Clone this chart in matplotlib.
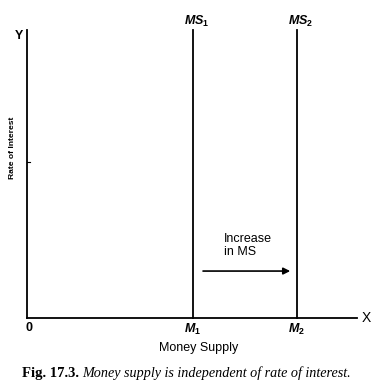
import matplotlib
matplotlib.use("Agg")
import matplotlib.pyplot as plt

# data
x_max = 10.0
y_max = 10.0
ms_positions = [5.03, 8.18]
ms_labels = ["$MS_1$", "$MS_2$"]
m_labels = ["$M_1$", "$M_2$"]
x_label = "Money Supply"
y_label = "Rate of Interest"
arrow_text = "Increase\nin MS"
caption_bold = "Fig. 17.3."
caption_italic = "Money supply is independent of rate of interest."

plt.rcParams['mathtext.fontset'] = 'custom'
plt.rcParams['mathtext.it'] = 'Liberation Sans:bold:italic'
plt.rcParams['mathtext.rm'] = 'Liberation Sans:bold'
plt.rcParams['font.family'] = ['Liberation Sans', 'DejaVu Sans']

fig = plt.figure(figsize=(3.84, 3.87), dpi=100)
ax = fig.add_axes([27/384, (387-318)/387, 330/384, 288/387])
ax.set_xlim(0, x_max)
ax.set_ylim(0, y_max)
ax.axis('off')

lw = 1.3
# axes lines
ax.plot([0, 0], [0, y_max], color='black', lw=lw, clip_on=False)
ax.plot([0, x_max], [0, 0], color='black', lw=lw, clip_on=False)
ax.plot([0, 0.08], [5.4, 5.4], color='black', lw=0.8, clip_on=False)

for xp, lab, mlab in zip(ms_positions, ms_labels, m_labels):
    ax.plot([xp, xp], [0, y_max], color='black', lw=lw, clip_on=False)
    ax.text(xp + 0.1, y_max + 0.02, lab, ha='center', va='bottom', fontsize=9)
    ax.text(xp, -0.12, mlab, ha='center', va='top', fontsize=9)

ax.text(-0.12, y_max - 0.2, "Y", ha='right', va='center', fontsize=9, fontweight='bold')
ax.text(x_max + 0.15, 0, "X", ha='left', va='center', fontsize=10)
ax.text(0.05, -0.15, "0", ha='center', va='top', fontsize=9, fontweight='bold')
ax.text(5.2, -0.85, x_label, ha='center', va='top', fontsize=9)
ax.text(-0.45, 5.92, y_label, ha='center', va='center', rotation=90, fontsize=6.1,
        fontweight='bold')

ax.annotate("", xy=(ms_positions[1] - 0.12, 1.63), xytext=(ms_positions[0] + 0.22, 1.63),
            arrowprops=dict(arrowstyle='-|>', color='black', lw=1.2, mutation_scale=10))
ax.text(5.98, 2.1, arrow_text, ha='left', va='bottom', fontsize=9, linespacing=1.05)

cy = 1 - 373/387
fig.text(22/384, cy, caption_bold, ha='left', va='center', fontsize=10.5,
         family='Liberation Serif', fontweight='bold')
fig.text(82/384, cy, caption_italic, ha='left', va='center', fontsize=10.2,
         family='Liberation Serif', style='italic')

fig.savefig("out.png", dpi=100)
